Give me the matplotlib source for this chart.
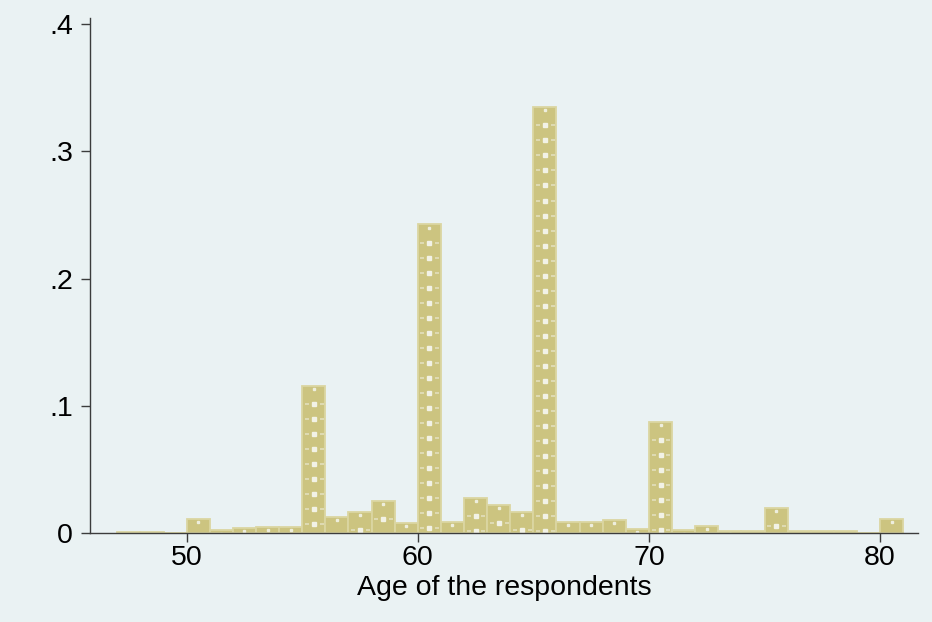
import matplotlib.pyplot as plt
import numpy as np

plt.rcParams['font.family'] = ['Liberation Sans', 'DejaVu Sans']

# Histogram of respondent age (bin width 1 year, density scale)
ages = np.arange(47, 81)
density = [0.0010, 0.0010, 0.0, 0.0108, 0.0020, 0.0038, 0.0045, 0.0045,
           0.1157, 0.0124, 0.0163, 0.0250, 0.0079, 0.2425, 0.0084, 0.0278,
           0.0223, 0.0168, 0.3346, 0.0084, 0.0084, 0.0100, 0.0031, 0.0874,
           0.0020, 0.0053, 0.0018, 0.0013, 0.0197, 0.0015, 0.0015, 0.0015,
           0.0, 0.0108]
x_ticks = [50, 60, 70, 80]
y_ticks = [0, 0.1, 0.2, 0.3, 0.4]
y_tick_labels = ['0', '.1', '.2', '.3', '.4']

bg = '#eaf2f3'
fill = '#ccc480'
edge = '#dbd6a2'

fig = plt.figure(figsize=(9.32, 6.22), dpi=100, facecolor=bg)
ax = fig.add_axes([0.0971, 0.1431, 0.8879, 0.8279])
ax.set_facecolor(bg)

ax.bar(ages, density, width=1, align='edge', color=fill,
       edgecolor=edge, linewidth=1.3, zorder=2)

# stata-style fill texture: rows of dash / dot / dash hanging from each bar top
step = 0.0118
for a, h in zip(ages, density):
    if h <= 0.0015:
        continue
    ax.plot(a + 0.5, h - 0.0025, marker='s', ms=2.0, color='#eeeedd',
            ls='none', zorder=3)
    y = h - 0.0025 - step
    rows = []
    while y > 0.0012:
        rows.append(y)
        y -= step
    if rows:
        rows = np.array(rows)
        ax.plot(np.full(len(rows), a + 0.2), rows, marker='_', ms=3.4,
                mew=1.1, color='#e4e1c2', ls='none', zorder=3)
        ax.plot(np.full(len(rows), a + 0.84), rows, marker='_', ms=3.4,
                mew=1.1, color='#e4e1c2', ls='none', zorder=3)
        ax.plot(np.full(len(rows), a + 0.5), rows, marker='s', ms=2.2,
                color='#f2f2e6', ls='none', zorder=3)

ax.set_xlim(45.84, 81.64)
ax.set_ylim(0, 0.4047)
ax.set_xticks(x_ticks)
ax.set_yticks(y_ticks)
ax.set_yticklabels(y_tick_labels)

for s in ['top', 'right']:
    ax.spines[s].set_visible(False)
for s in ['left', 'bottom']:
    ax.spines[s].set_color('#3c3c3c')
    ax.spines[s].set_linewidth(1.0)
    ax.spines[s].set_zorder(4)

ax.tick_params(axis='both', colors='#3c3c3c', labelcolor='black',
               labelsize=20.5, length=6.5, width=1.0)
ax.tick_params(axis='x', pad=2)
ax.tick_params(axis='y', pad=6)

ax.set_xlabel('Age of the respondents', fontsize=20.5, labelpad=3)

fig.savefig('out.png', dpi=100, facecolor=bg)
